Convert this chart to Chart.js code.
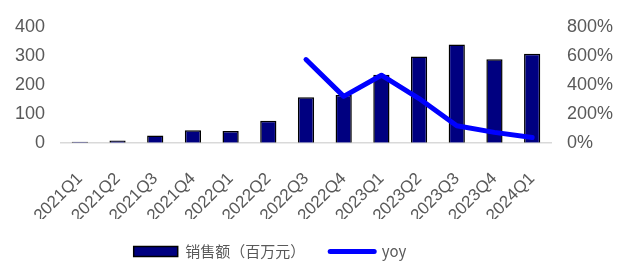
<!DOCTYPE html>
<html>
<head>
<meta charset="utf-8">
<script src="https://cdn.jsdelivr.net/npm/chart.js@4/dist/chart.umd.min.js"></script>
<style>
  html, body { margin: 0; padding: 0; background: #fff; }
  #wrap { width: 626px; height: 265px; }
</style>
</head>
<body>
<div id="wrap"><canvas id="chart_cv"></canvas></div>
<script>
// データ
const quarters = ['2021Q1', '2021Q2', '2021Q3', '2021Q4', '2022Q1', '2022Q2', '2022Q3',
  '2022Q4', '2023Q1', '2023Q2', '2023Q3', '2023Q4', '2024Q1'];
const sales = [4, 8, 25, 43, 41, 76, 157, 165, 235, 298, 339, 288, 307]; // 百万元
const yoy = [null, null, null, null, null, null, 574, 320, 466, 305, 118, 72, 36]; // %
const leftTicks = [0, 100, 200, 300, 400];
const rightTicks = [0, 200, 400, 600, 800];

const yFont = { family: 'Liberation Sans, Arial, sans-serif', size: 18 };
const xFont = { family: 'Liberation Sans, Arial, sans-serif', size: 17 };
const gray = '#595959';

// 凡例を少し左へずらす
const legendShift = {
  id: 'legendShift',
  afterLayout(chart) {
    chart.legend.left -= 44;
    chart.legend.right -= 44;
  }
};

const ctx = document.getElementById('chart_cv');
const chart_cv = new Chart(ctx, {
  type: 'bar',
  data: {
    labels: quarters,
    datasets: [
      {
        label: '销售额（百万元）',
        data: sales,
        backgroundColor: '#000080',
        borderColor: '#000000',
        borderWidth: 1.5,
        categoryPercentage: 1,
        barPercentage: 0.43,
        yAxisID: 'y',
        order: 2
      },
      {
        type: 'line',
        label: 'yoy',
        data: yoy,
        borderColor: '#0000ff',
        backgroundColor: '#0000ff',
        borderWidth: 5,
        borderCapStyle: 'round',
        borderJoinStyle: 'round',
        pointRadius: 0,
        tension: 0,
        yAxisID: 'y1',
        order: 1
      }
    ]
  },
  plugins: [legendShift],
  options: {
    responsive: true,
    maintainAspectRatio: false,
    animation: false,
    layout: { padding: { top: 2, left: 14, right: 12, bottom: -4 } },
    plugins: {
      tooltip: { enabled: false },
      legend: {
        position: 'bottom',
        labels: {
          usePointStyle: true,
          pointStyleWidth: 44,
          boxHeight: 10,
          padding: 25,
          color: gray,
          font: { family: 'Noto Sans CJK SC', size: 15 },
          sort: (a, b) => a.datasetIndex - b.datasetIndex,
          generateLabels: (chart) => {
            const items = Chart.defaults.plugins.legend.labels.generateLabels(chart);
            items.forEach(it => {
              if (it.datasetIndex === 0) {
                it.pointStyle = 'rect';
              } else {
                it.pointStyle = 'line';
                it.lineCap = 'round';
              }
            });
            return items;
          }
        }
      }
    },
    scales: {
      x: {
        grid: { display: false, drawTicks: false },
        border: { display: true, color: '#d9d9d9', width: 1.5 },
        ticks: { color: gray, font: xFont, minRotation: 45, maxRotation: 45, padding: 26, autoSkip: false },
        afterFit: (axis) => { axis.height -= 33; }
      },
      y: {
        position: 'left',
        min: 0,
        max: 400,
        afterBuildTicks: (axis) => { axis.ticks = leftTicks.map(v => ({ value: v })); },
        grid: { display: false, drawTicks: false },
        border: { display: false },
        ticks: { color: gray, font: yFont, padding: 16 },
        afterFit: (axis) => { axis.width = 47; }
      },
      y1: {
        position: 'right',
        min: 0,
        max: 800,
        afterBuildTicks: (axis) => { axis.ticks = rightTicks.map(v => ({ value: v })); },
        grid: { display: false, drawTicks: false },
        border: { display: false },
        ticks: { color: gray, font: yFont, padding: 16, callback: (v) => v + '%' },
        afterFit: (axis) => { axis.width = 63; }
      }
    }
  }
});
</script>
</body>
</html>
